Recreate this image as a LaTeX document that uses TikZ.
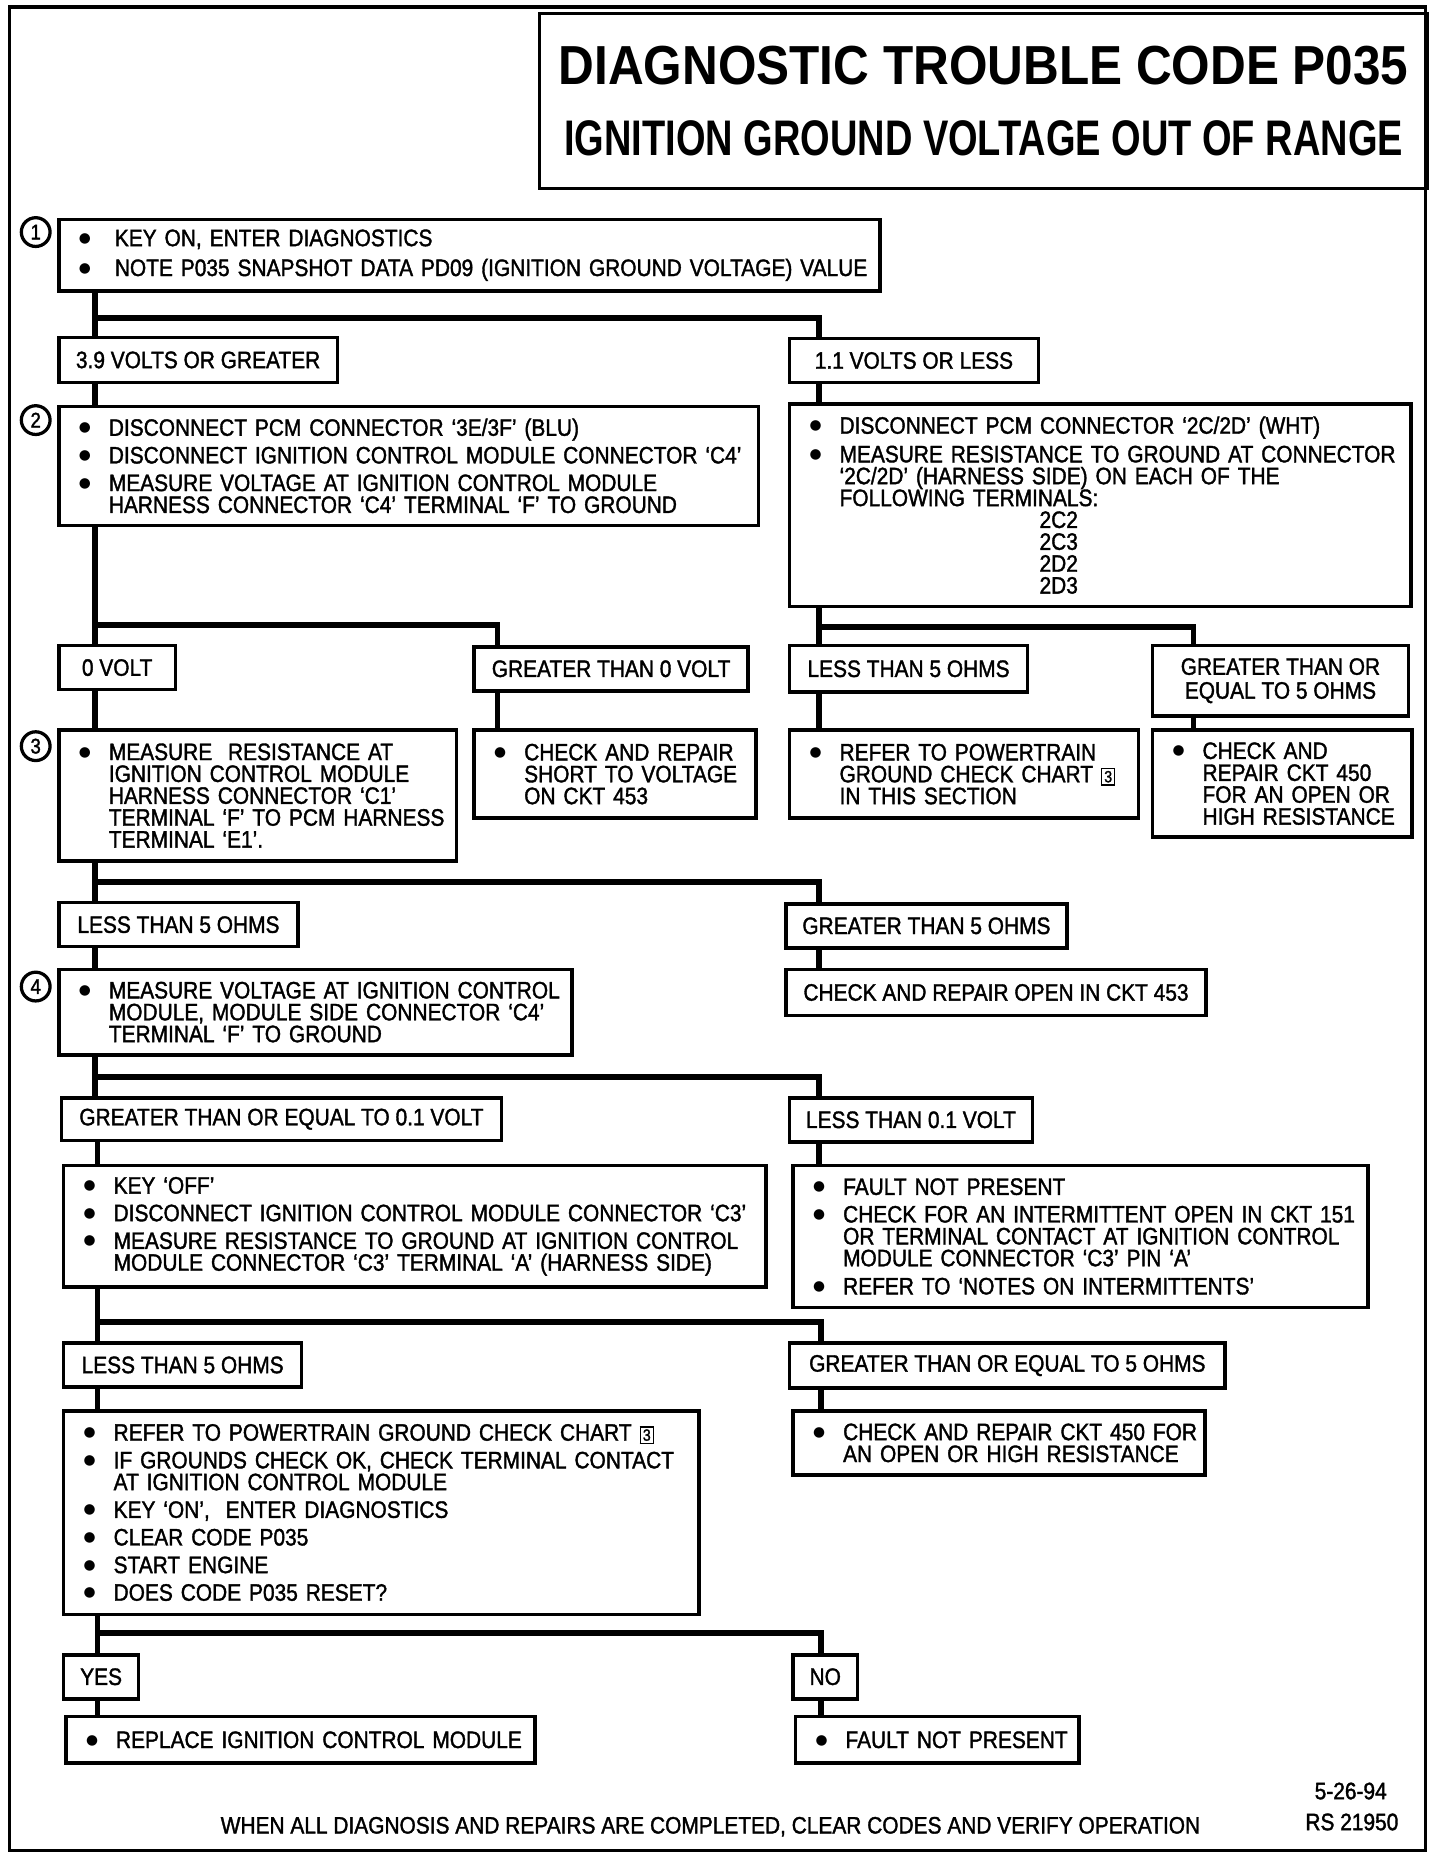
\documentclass[tikz,border=0pt]{standalone}
\usepackage{fontspec}
\setmainfont{Liberation Sans}[FakeStretch=0.88, FakeBold=1.5]
\newfontfamily\titlefontA{Liberation Sans}[FakeStretch=0.90]
\newfontfamily\titlefontB{Liberation Sans}[FakeStretch=0.76]
\newfontfamily\dotfont{DejaVu Sans}
\usetikzlibrary{calc, positioning}
\lineskiplimit=-20pt
\lineskip=0pt
\newcommand{\bodyfont}{\fontsize{9.5pt}{8.75pt}\selectfont}
\newcommand{\dotmark}{\raisebox{1.6pt}{\dotfont\fontsize{5.5pt}{5.5pt}\selectfont ●}}
\newcommand{\bul}[2][12pt]{\mbox{\makebox[#1][l]{\dotmark}#2}}
\newcommand{\cont}[2][12pt]{\mbox{\hspace*{#1}#2}}
\newcommand{\chartref}{{\setlength{\fboxsep}{0.7pt}\setlength{\fboxrule}{0.6pt}\fbox{\fontsize{6.5pt}{6.5pt}\selectfont 3}}}

\begin{document}
\begin{tikzpicture}[
	x=0.476pt, y=-0.476pt,
	every node/.style={font=\bodyfont},
	box/.style={draw, line width=1.4pt, anchor=north west, inner xsep=8pt, inner ysep=0pt, align=left},
	lbl/.style={draw, line width=1.4pt, anchor=north west, inner sep=0pt, align=center},
	dims/.style 2 args={minimum width=#1*0.476pt, minimum height=#2*0.476pt},
	wrap/.style={text width=#1*0.476pt-16pt},
	link/.style={line width=2.2pt},
	stepno/.style={circle, draw, line width=1.3pt, minimum size=11.5pt, inner sep=0pt, font=\fontsize{8.5pt}{8.5pt}\selectfont}]
	\useasboundingbox (0,0) rectangle (1210,1568);
	\draw[line width=1.4pt] (8,6) rectangle (1198,1555);
	% title
	\node[lbl, dims={746}{147}, font=\fontsize{22pt}{28.6pt}\selectfont] (title) at (452,10)
		{{\titlefontA\bfseries DIAGNOSTIC TROUBLE CODE P035}\\{\titlefontB\bfseries\fontsize{20pt}{28.6pt}\selectfont IGNITION GROUND VOLTAGE OUT OF RANGE}};
	% step 1
	\node[box, dims={690}{60}, wrap=690] (s1) at (48,183)
		{\bul[14.4pt]{KEY ON, ENTER DIAGNOSTICS}\\[3.2pt]
		 \bul[14.4pt]{NOTE P035 SNAPSHOT DATA PD09 (IGNITION GROUND VOLTAGE) VALUE}};
	\node[lbl, dims={234}{38}] (c1a) at (48,282) {3.9 VOLTS OR GREATER};
	\node[lbl, dims={209}{37}] (c1b) at (662,283) {1.1 VOLTS OR LESS};
	% step 2
	\node[box, dims={588}{100}, wrap=588] (s2a) at (48,340)
		{\bul{DISCONNECT PCM CONNECTOR ‘3E/3F’ (BLU)}\\[2.3pt]
		 \bul{DISCONNECT IGNITION CONTROL MODULE CONNECTOR ‘C4’}\\[2.3pt]
		 \bul{MEASURE VOLTAGE AT IGNITION CONTROL MODULE}\\
		 \cont{HARNESS CONNECTOR ‘C4’ TERMINAL ‘F’ TO GROUND}};
	\node[box, dims={522}{170}, wrap=522] (s2b) at (662,338)
		{\bul{DISCONNECT PCM CONNECTOR ‘2C/2D’ (WHT)}\\[2.7pt]
		 \bul{MEASURE RESISTANCE TO GROUND AT CONNECTOR}\\
		 \cont{‘2C/2D’ (HARNESS SIDE) ON EACH OF THE}\\
		 \cont{FOLLOWING TERMINALS:}\\
		 \cont[92pt]{2C2}\\
		 \cont[92pt]{2C3}\\
		 \cont[92pt]{2D2}\\
		 \cont[92pt]{2D3}};
	\node[lbl, dims={98}{37}] (c2a) at (48,541) {0 VOLT};
	\node[lbl, dims={230}{37}] (c2b) at (397,542) {GREATER THAN 0 VOLT};
	\node[lbl, dims={200}{39}] (c2c) at (662,541) {LESS THAN 5 OHMS};
	\node[lbl, dims={215}{59}] (c2d) at (967,541) {GREATER THAN OR\\[0.8pt]EQUAL TO 5 OHMS};
	% step 3
	\node[box, dims={334}{110}, wrap=334] (s3) at (48,612)
		{\bul{MEASURE\ \ RESISTANCE AT}\\
		 \cont{IGNITION CONTROL MODULE}\\
		 \cont{HARNESS CONNECTOR ‘C1’}\\
		 \cont{TERMINAL ‘F’ TO PCM HARNESS}\\
		 \cont{TERMINAL ‘E1’.}};
	\node[box, dims={237}{74}, wrap=237] (r2b) at (397,612)
		{\bul{CHECK AND REPAIR}\\ \cont{SHORT TO VOLTAGE}\\ \cont{ON CKT 453}};
	\node[box, dims={293}{74}, wrap=293] (r2c) at (662,612)
		{\bul{REFER TO POWERTRAIN}\\ \cont{GROUND CHECK CHART \chartref}\\ \cont{IN THIS SECTION}};
	\node[box, dims={218}{90}, wrap=218] (r2d) at (967,612)
		{\bul{CHECK AND}\\ \cont{REPAIR CKT 450}\\ \cont{FOR AN OPEN OR}\\ \cont{HIGH RESISTANCE}};
	\node[lbl, dims={201}{37}] (c3a) at (48,757) {LESS THAN 5 OHMS};
	\node[lbl, dims={236}{37}] (c3b) at (659,758) {GREATER THAN 5 OHMS};
	\node[lbl, dims={353}{39}] (r3b) at (659,813) {CHECK AND REPAIR OPEN IN CKT 453};
	% step 4
	\node[box, dims={431}{72}, wrap=431] (s4) at (48,813)
		{\bul{MEASURE VOLTAGE AT IGNITION CONTROL}\\
		 \cont{MODULE, MODULE SIDE CONNECTOR ‘C4’}\\
		 \cont{TERMINAL ‘F’ TO GROUND}};
	\node[lbl, dims={370}{36}] (c4a) at (50,921) {GREATER THAN OR EQUAL TO 0.1 VOLT};
	\node[lbl, dims={204}{37}] (c4b) at (662,921) {LESS THAN 0.1 VOLT};
	\node[box, dims={590}{102}, wrap=590] (s5a) at (52,978)
		{\bul{KEY ‘OFF’}\\[2.3pt]
		 \bul{DISCONNECT IGNITION CONTROL MODULE CONNECTOR ‘C3’}\\[2.3pt]
		 \bul{MEASURE RESISTANCE TO GROUND AT IGNITION CONTROL}\\
		 \cont{MODULE CONNECTOR ‘C3’ TERMINAL ‘A’ (HARNESS SIDE)}};
	\node[box, dims={483}{119}, wrap=483] (s5b) at (665,978)
		{\bul{FAULT NOT PRESENT}\\[2.3pt]
		 \bul{CHECK FOR AN INTERMITTENT OPEN IN CKT 151}\\
		 \cont{OR TERMINAL CONTACT AT IGNITION CONTROL}\\
		 \cont{MODULE CONNECTOR ‘C3’ PIN ‘A’}\\[2.5pt]
		 \bul{REFER TO ‘NOTES ON INTERMITTENTS’}};
	\node[lbl, dims={200}{37}] (c5a) at (52,1127) {LESS THAN 5 OHMS};
	\node[lbl, dims={366}{38}] (c5b) at (662,1127) {GREATER THAN OR EQUAL TO 5 OHMS};
	\node[box, dims={534}{171}, wrap=534] (s6a) at (52,1184)
		{\bul{REFER TO POWERTRAIN GROUND CHECK CHART \chartref}\\[2.3pt]
		 \bul{IF GROUNDS CHECK OK, CHECK TERMINAL CONTACT}\\
		 \cont{AT IGNITION CONTROL MODULE}\\[2.3pt]
		 \bul{KEY ‘ON’,\ \ ENTER DIAGNOSTICS}\\[2.3pt]
		 \bul{CLEAR CODE P035}\\[2.3pt]
		 \bul{START ENGINE}\\[2.3pt]
		 \bul{DOES CODE P035 RESET?}};
	\node[box, dims={346}{54}, wrap=346] (s6b) at (665,1184)
		{\bul{CHECK AND REPAIR CKT 450 FOR}\\ \cont{AN OPEN OR HIGH RESISTANCE}};
	\node[lbl, dims={63}{37}] (c6a) at (52,1389) {YES};
	\node[lbl, dims={54}{37}] (c6b) at (665,1389) {NO};
	\node[box, dims={394}{39}, wrap=394] (e6a) at (54,1441) {\bul{REPLACE IGNITION CONTROL MODULE}};
	\node[box, dims={238}{39}, wrap=238] (e6b) at (667,1441) {\bul{FAULT NOT PRESENT}};
	% step numbers
	\node[stepno] (n1) at ($(s1.north west)+(-18,12)$) {1};
	\node[stepno] (n2) at ($(s2a.north west)+(-18,13)$) {2};
	\node[stepno] (n3) at ($(s3.north west)+(-18,15)$) {3};
	\node[stepno] (n4) at ($(s4.north west)+(-18,16)$) {4};
	% footer
	\node (date) at (1135,1505) {5-26-94};
	\node (rs) at (1136,1531) {RS 21950};
	\node (note) at (597,1535) {WHEN ALL DIAGNOSIS AND REPAIRS ARE COMPLETED, CLEAR CODES AND VERIFY OPERATION};
	% connector columns
	\coordinate (L) at (80,0);
	\coordinate (L2) at (82,0);
	\coordinate (M) at (418,0);
	\coordinate (R) at (688,0);
	\coordinate (R2) at (690,0);
	\coordinate (F) at (1003,0);
	% straight links
	\foreach \a/\b/\c in {s1/c1a/L, c1a/s2a/L, c1b/s2b/R, s2a/c2a/L, c2a/s3/L, c2b/r2b/M,
		s2b/c2c/R, c2c/r2c/R, c2d/r2d/F, s3/c3a/L, c3a/s4/L, c3b/r3b/R, s4/c4a/L,
		c4a/s5a/L2, c4b/s5b/R, s5a/c5a/L2, c5a/s6a/L2, c5b/s6b/R2, s6a/c6a/L2,
		c6a/e6a/L2, c6b/e6b/R2}
		\draw[link] (\a.south -| \c) -- (\b.north -| \c);
	% branch bars
	\foreach \a/\b/\c/\d/\e in {c1a/c1b/L/R/15, c2a/c2b/L/M/16, c2c/c2d/R/F/14, c3a/c3b/L/R/16,
		c4a/c4b/L/R/16, c5a/c5b/L2/R2/16, c6a/c6b/L2/R2/17}
		\draw[link] (\a.north -| \c) ++(0,-\e) -| (\b.north -| \d);
\end{tikzpicture}
\end{document}
